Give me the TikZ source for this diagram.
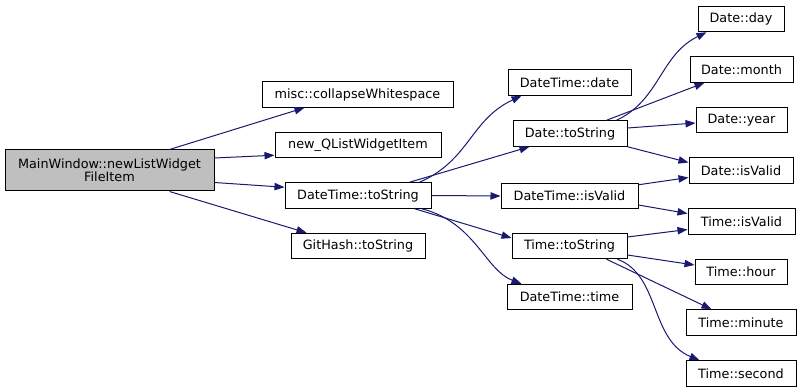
\documentclass[tikz,border=0pt]{standalone}
\usepackage{fontspec}
\setmainfont{DejaVu Sans}
\usetikzlibrary{arrows.meta,calc}
\definecolor{edgeblue}{HTML}{191970}
\definecolor{maingray}{HTML}{BFBFBF}
\begin{document}
\begin{tikzpicture}[x=0.75pt,y=-0.75pt,
  box/.style={draw=black,fill=white,line width=0.75pt,inner sep=0pt,minimum height=19.1pt,
    font=\fontsize{9.6}{10}\selectfont,align=center},
  edge/.style={draw=edgeblue,line width=0.75pt,-{Triangle[length=7.5pt,width=5.5pt]}}]
\useasboundingbox (0,0) rectangle (801,392);
% nodes
\node[box,fill=maingray,minimum width=156.75pt,minimum height=30.75pt] (main) at (109.5,170.5) {MainWindow::newListWidget\\FileItem};
\node[box,minimum width=143.25pt] (misc) at (357.5,94.5) {misc::collapseWhitespace};
\node[box,minimum width=124.5pt] (newq) at (358,145) {new\_QListWidgetItem};
\node[box,minimum width=109.5pt] (dts) at (358,195.5) {DateTime::toString};
\node[box,minimum width=100.5pt] (git) at (358,246) {GitHash::toString};
\node[box,minimum width=92.25pt] (dtdate) at (569.5,82.5) {DateTime::date};
\node[box,minimum width=85.5pt] (datets) at (570,133.5) {Date::toString};
\node[box,minimum width=102.75pt] (dtvalid) at (569.5,196) {DateTime::isValid};
\node[box,minimum width=86.25pt] (tts) at (569.5,246) {Time::toString};
\node[box,minimum width=93.75pt] (dttime) at (569.5,297) {DateTime::time};
\node[box,minimum width=64.5pt] (day) at (741,19) {Date::day};
\node[box,minimum width=77.25pt] (month) at (741.5,69.5) {Date::month};
\node[box,minimum width=68.25pt] (year) at (741.5,120) {Date::year};
\node[box,minimum width=78pt] (dvalid) at (741,170.5) {Date::isValid};
\node[box,minimum width=80.25pt] (tvalid) at (741.5,221.5) {Time::isValid};
\node[box,minimum width=69pt] (hour) at (741,272) {Time::hour};
\node[box,minimum width=82.5pt] (minute) at (741,322.5) {Time::minute};
\node[box,minimum width=82.5pt] (second) at (741,373.5) {Time::second};
% edges
\draw[edge] ($(main.north west)+(165,0)$) -- ($(misc.south west)+(43,0)$);
\draw[edge] ($(main.east)+(0,-12.5)$) -- ($(newq.south west)+(0,-3)$);
\draw[edge] ($(main.east)+(0,12)$) -- ($(dts.north west)+(0,5)$);
\draw[edge] ($(main.south west)+(165,0)$) -- ($(git.north west)+(16,0)$);
\draw[edge] ($(dts.north west)+(135,0)$) .. controls (470,160) and (470,120) .. ($(dtdate.south west)+(14,0)$);
\draw[edge] ($(dts.north west)+(125,0)$) -- ($(datets.south west)+(17,0)$);
\draw[edge] (dts.east) -- (dtvalid.west);
\draw[edge] ($(dts.south west)+(130,0)$) -- ($(tts.west)+(0,-8)$);
\draw[edge] ($(dts.south west)+(137,0)$) .. controls (475,222) and (485,270) .. ($(dttime.north west)+(15,0)$);
\draw[edge] ($(datets.north west)+(104,0)$) .. controls (660,100) and (660,55) .. ($(day.south west)+(9,0)$);
\draw[edge] ($(datets.north west)+(94,0)$) -- ($(month.south west)+(15,0)$);
\draw[edge] ($(datets.east)+(0,-5.5)$) -- ($(year.west)+(0,3)$);
\draw[edge] (datets.south east) -- ($(dvalid.west)+(0,-8)$);
\draw[edge] ($(dtvalid.north east)+(0,2)$) -- ($(dvalid.west)+(0,7)$);
\draw[edge] ($(dtvalid.east)+(0,9)$) -- ($(tvalid.west)+(0,-8)$);
\draw[edge] ($(tts.east)+(0,-9)$) -- ($(tvalid.west)+(0,8)$);
\draw[edge] ($(tts.east)+(0,9)$) -- ($(hour.west)+(0,-7)$);
\draw[edge] ($(tts.south west)+(95,0)$) -- ($(minute.north west)+(26,0)$);
\draw[edge] ($(tts.south west)+(106,0)$) .. controls (660,275) and (650,340) .. ($(second.north west)+(14,0)$);
\end{tikzpicture}
\end{document}
